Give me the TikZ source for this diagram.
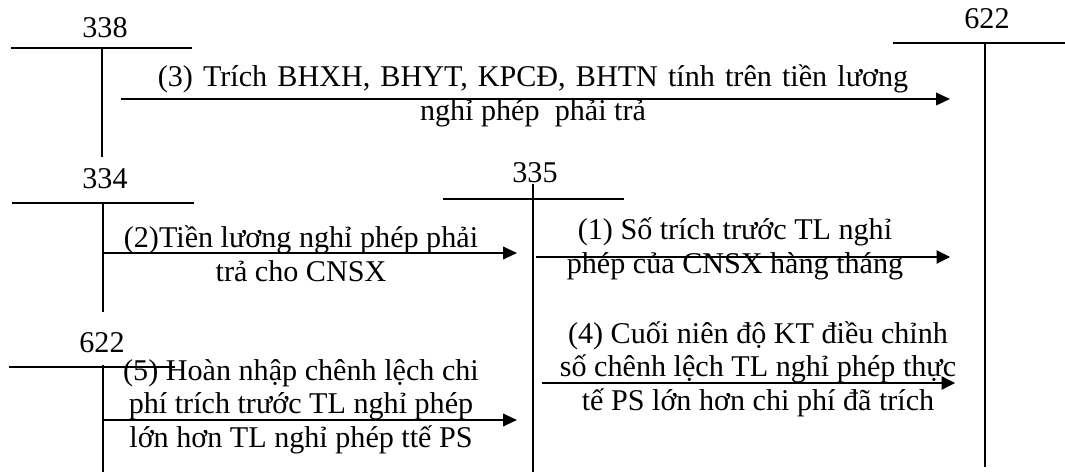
\documentclass[tikz,border=0pt]{standalone}
\usepackage{fontspec}
\setmainfont{Liberation Serif}
\usetikzlibrary{arrows.meta}
\newcommand\wideskip{\spaceskip=7.6pt\relax}
\begin{document}
\begin{tikzpicture}[x=0.75pt,y=-0.75pt,
  acct/.style={line width=1.4pt},
  flow/.style={line width=1.4pt,-{Triangle[length=10.5pt,width=9.5pt]}},
  thinflow/.style={line width=0.8pt,-{Triangle[length=10pt,width=10pt]}},
  lbl/.style={inner sep=0pt,anchor=base,font=\fontsize{22.6pt}{25pt}\selectfont},
  txt/.style={inner sep=0pt,anchor=base,align=center,font=\fontsize{22.6pt}{25pt}\selectfont}]
\useasboundingbox (0,0) rectangle (1065,472);
% T-accounts
\node[lbl] (l338) at (105,37) {338};
\coordinate (a338l) at (11,48); \coordinate (a338r) at (192,48);
\coordinate (a338t) at (102,48); \coordinate (a338b) at (102,157);
\draw[acct] (a338l) -- (a338r); \draw[acct] (a338t) -- (a338b);

\node[lbl] (l622a) at (987,28) {622};
\coordinate (a622l) at (893,43); \coordinate (a622r) at (1065,43);
\coordinate (a622t) at (985,43); \coordinate (a622b) at (985,467);
\draw[acct] (a622l) -- (a622r); \draw[acct] (a622t) -- (a622b);

\node[lbl] (l334) at (105,188) {334};
\coordinate (a334l) at (12,203); \coordinate (a334r) at (194,203);
\coordinate (a334t) at (103,203); \coordinate (a334b) at (103,312);
\draw[acct] (a334l) -- (a334r); \draw[acct] (a334t) -- (a334b);

\node[lbl] (l335) at (535,182) {335};
\coordinate (a335l) at (443,199); \coordinate (a335r) at (624,199);
\coordinate (a335t) at (533,184); \coordinate (a335b) at (533,472);
\draw[acct] (a335l) -- (a335r); \draw[acct] (a335t) -- (a335b);

\node[lbl] (l622b) at (102,352) {622};
\coordinate (b622l) at (9,367); \coordinate (b622r) at (175,367);
\coordinate (b622t) at (103,365); \coordinate (b622b) at (103,472);
\draw[acct] (b622l) -- (b622r); \draw[acct] (b622t) -- (b622b);

% flows
\coordinate (f3s) at (121,99); \coordinate (f3e) at (950,99);
\draw[flow] (f3s) -- (f3e);
\node[txt,font=\fontsize{22.6pt}{25pt}\selectfont\wideskip] (t3) at (533,120) {(3) Trích BHXH, BHYT, KPCĐ, BHTN tính trên tiền lương\\{\spaceskip=0pt\relax nghỉ phép\ \ phải trả}};

\coordinate (f2s) at (103,253); \coordinate (f2e) at (517,253);
\draw[flow] (f2s) -- (f2e);
\node[txt] (t2) at (301,281) {(2)Tiền lương nghỉ phép phải\\trả cho CNSX};

\coordinate (f1s) at (536,257); \coordinate (f1e) at (950,257);
\draw[thinflow] (f1s) -- (f1e);
\node[txt] (t1) at (735,273) {(1) Số trích trước TL nghỉ\\phép của CNSX hàng tháng};

\coordinate (f4s) at (542,383); \coordinate (f4e) at (955,383);
\draw[thinflow,line width=1pt] (f4s) -- (f4e);
\node[txt] (t4) at (758,410) {(4) Cuối niên độ KT điều chỉnh\\số chênh lệch TL nghỉ phép thực\\tế PS lớn hơn chi phí đã trích};

\coordinate (f5s) at (103,420); \coordinate (f5e) at (517,420);
\draw[flow] (f5s) -- (f5e);
\node[txt] (t5) at (301,447) {(5) Hoàn nhập chênh lệch chi\\phí trích trước TL nghỉ phép\\lớn hơn TL nghỉ phép ttế PS};
\end{tikzpicture}
\end{document}
